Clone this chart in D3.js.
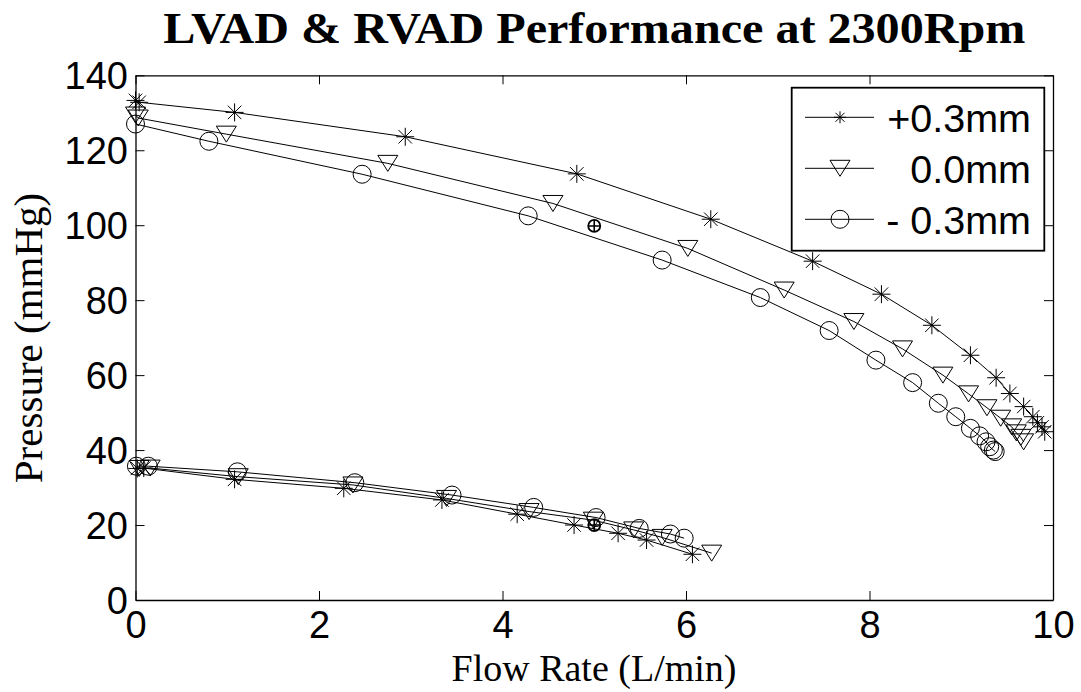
<!DOCTYPE html>
<html>
<head>
<meta charset="utf-8">
<script src="https://cdn.jsdelivr.net/npm/d3@7"></script>
<style>
  body { margin: 0; background: #fff; }
  svg { display: block; }
  text { white-space: pre; }
</style>
</head>
<body>
<svg id="chart" width="1081" height="692"></svg>
<script>
// LVAD (upper) curves, flow L/min and pressure mmHg
var lvadStarX = [0, 0.04, 1.08, 2.94, 4.81, 6.27, 7.38, 8.13, 8.68, 9.10, 9.38, 9.53, 9.68, 9.78, 9.83, 9.88, 9.91]
var lvadStarY = [133.3, 132.8, 130.1, 123.6, 113.7, 101.6, 90.4, 81.6, 73.3, 65.3, 59.3, 55.1, 51.6, 48.9, 47.3, 46.2, 44.9]
var lvadTriX = [0, 0.03, 0.99, 2.75, 4.55, 6.02, 7.07, 7.83, 8.36, 8.80, 9.08, 9.28, 9.43, 9.55, 9.60, 9.65, 9.68]
var lvadTriY = [129.4, 128.6, 124.3, 116.5, 105.8, 93.8, 82.7, 74.3, 67.0, 60.0, 55.0, 51.3, 48.5, 46.2, 44.6, 43.4, 42.2]
var lvadCircX = [0, 0.80, 2.47, 4.28, 5.74, 6.81, 7.56, 8.07, 8.47, 8.75, 8.94, 9.10, 9.20, 9.27, 9.31, 9.35, 9.37]
var lvadCircY = [127.0, 122.4, 113.6, 102.5, 90.7, 80.7, 71.9, 64.0, 58.0, 52.5, 48.9, 45.8, 43.8, 42.2, 40.9, 40.0, 39.6]

// RVAD (lower) curves
var rvadStarX = [0.02, 0.09, 1.08, 2.27, 3.34, 4.16, 4.78, 5.26, 5.57, 6.07]
var rvadStarY = [35.1, 35.2, 32.2, 29.8, 26.7, 22.9, 20.0, 17.8, 16.0, 12.2]
var rvadTriX = [0.04, 0.16, 1.12, 2.37, 3.39, 4.29, 4.99, 5.43, 5.74, 6.28]
var rvadTriY = [35.1, 35.2, 32.9, 30.7, 27.1, 23.6, 21.3, 18.7, 16.7, 12.5]
var rvadCircX = [0.01, 0.14, 1.11, 2.39, 3.45, 4.34, 5.02, 5.49, 5.83, 5.98]
var rvadCircY = [35.7, 35.7, 34.2, 31.3, 28.0, 24.7, 22.0, 19.1, 17.6, 16.5]

// design points (circled plus)
var designX = [5, 5]
var designY = [99.8, 20.0]

var legendLabels = ["+0.3mm", "0.0mm", "- 0.3mm"]
var legendMarkers = ["star", "tri", "circ"]
var xTicks = [0, 2, 4, 6, 8, 10]
var yTicks = [0, 20, 40, 60, 80, 100, 120, 140]

var svg = d3.select("#chart")

var x = d3.scaleLinear().domain([0, 10]).range([135.5, 1053])
var y = d3.scaleLinear().domain([0, 140]).range([600, 75.3])

/// marker path generators, centred on 0,0
function markerPath(kind, s) {
    if (kind == "star") {
        var d = s * 0.75
        return "M" + (-s) + ",0H" + s + "M0," + (-s) + "V" + s +
            "M" + (-d) + "," + (-d) + "L" + d + "," + d +
            "M" + (-d) + "," + d + "L" + d + "," + (-d)
    }
    if (kind == "tri") {
        var w = s * 1.25, h = s
        return "M" + (-w) + "," + (-h) + "L" + w + "," + (-h) + "L0," + h + "Z"
    }
    return null
}

var zip = (xs, ys) => xs.map((v, i) => [v, ys[i]])

var series = [
    {kind: "star", pts: zip(lvadStarX, lvadStarY)},
    {kind: "tri", pts: zip(lvadTriX, lvadTriY)},
    {kind: "circ", pts: zip(lvadCircX, lvadCircY)},
    {kind: "star", pts: zip(rvadStarX, rvadStarY)},
    {kind: "tri", pts: zip(rvadTriX, rvadTriY)},
    {kind: "circ", pts: zip(rvadCircX, rvadCircY)}
]

/// axes: inward ticks on all four sides
function styleAxis(g) {
    g.selectAll(".domain").attr("stroke", "#000").attr("stroke-width", 1.3)
    g.selectAll(".tick line").attr("stroke", "#000").attr("stroke-width", 1)
    g.selectAll("text").attr("font-family", "Arial, 'Liberation Sans', sans-serif")
        .attr("font-size", 38).attr("fill", "#000")
}

svg.append("g").attr("transform", "translate(0,600)")
    .call(d3.axisBottom(x).tickValues(xTicks).tickSizeInner(-9).tickSizeOuter(0).tickPadding(11))
    .call(styleAxis)
svg.append("g").attr("transform", "translate(0,75.3)")
    .call(d3.axisTop(x).tickValues(xTicks).tickSizeInner(-9).tickSizeOuter(0).tickFormat(""))
    .call(styleAxis)
svg.append("g").attr("transform", "translate(135.5,0)")
    .call(d3.axisLeft(y).tickValues(yTicks).tickSizeInner(-9).tickSizeOuter(0).tickPadding(7.5))
    .call(styleAxis)
    .selectAll("text").attr("dy", "0.36em")
svg.append("g").attr("transform", "translate(1053,0)")
    .call(d3.axisRight(y).tickValues(yTicks).tickSizeInner(-9).tickSizeOuter(0).tickFormat(""))
    .call(styleAxis)

/// curves
var line = d3.line().x(d => x(d[0])).y(d => y(d[1]))
var plot = svg.append("g")

series.forEach(function(s) {
    plot.append("path").datum(s.pts)
        .attr("d", line)
        .attr("fill", "none").attr("stroke", "#000").attr("stroke-width", 1)

    var m = plot.selectAll(null).data(s.pts).enter()
    if (s.kind == "circ") {
        m.append("circle")
            .attr("cx", d => x(d[0])).attr("cy", d => y(d[1])).attr("r", 9)
            .attr("fill", "none").attr("stroke", "#000").attr("stroke-width", 1)
    } else {
        m.append("path")
            .attr("transform", d => "translate(" + x(d[0]) + "," + y(d[1]) + ")")
            .attr("d", markerPath(s.kind, s.kind == "star" ? 9 : 8))
            .attr("fill", "none").attr("stroke", "#000").attr("stroke-width", 1)
    }
})

/// design points
var dp = plot.selectAll(".design").data(zip(designX, designY)).enter()
    .append("g").attr("class", "design")
    .attr("transform", d => "translate(" + x(d[0]) + "," + y(d[1]) + ")")
dp.append("circle").attr("r", 6).attr("fill", "none").attr("stroke", "#000").attr("stroke-width", 1.8)
dp.append("path").attr("d", "M-6,0H6M0,-6V6").attr("stroke", "#000").attr("stroke-width", 1.6)

/// legend
var leg = svg.append("g")
leg.append("rect")
    .attr("x", 791.7).attr("y", 87.7).attr("width", 252.6).attr("height", 163)
    .attr("fill", "#fff").attr("stroke", "#000").attr("stroke-width", 1.8)

var rows = leg.selectAll(".row").data(legendLabels).enter()
    .append("g").attr("class", "row")
    .attr("transform", (d, i) => "translate(0," + (117.3 + i * 51) + ")")
rows.append("line").attr("x1", 805).attr("x2", 874)
    .attr("stroke", "#000").attr("stroke-width", 1)
rows.each(function(d, i) {
    var g = d3.select(this)
    var kind = legendMarkers[i]
    if (kind == "circ") {
        g.append("circle").attr("cx", 840).attr("r", 9)
            .attr("fill", "none").attr("stroke", "#000")
    } else {
        g.append("path").attr("transform", "translate(840,0)")
            .attr("d", markerPath(kind, kind == "star" ? 6 : 8))
            .attr("fill", "none").attr("stroke", "#000")
    }
})
rows.append("text").attr("x", 1031).attr("dy", "0.36em")
    .attr("text-anchor", "end")
    .attr("font-family", "Arial, 'Liberation Sans', sans-serif")
    .attr("font-size", 39.5).attr("fill", "#000")
    .text(d => d)

/// title and axis labels
svg.append("text")
    .attr("x", 163.3).attr("y", 43)
    .attr("font-family", "'Liberation Serif', 'Times New Roman', serif")
    .attr("font-weight", "bold").attr("font-size", 44)
    .attr("textLength", 862).attr("lengthAdjust", "spacingAndGlyphs")
    .text("LVAD & RVAD Performance at 2300Rpm")

svg.append("text")
    .attr("x", 594).attr("y", 681)
    .attr("text-anchor", "middle")
    .attr("font-family", "'Liberation Serif', 'Times New Roman', serif")
    .attr("font-size", 38)
    .text("Flow Rate (L/min)")

svg.append("text")
    .attr("transform", "translate(41.7,338) rotate(-90)")
    .attr("text-anchor", "middle")
    .attr("font-family", "'Liberation Serif', 'Times New Roman', serif")
    .attr("font-size", 41)
    .text("Pressure (mmHg)")
</script>
</body>
</html>
